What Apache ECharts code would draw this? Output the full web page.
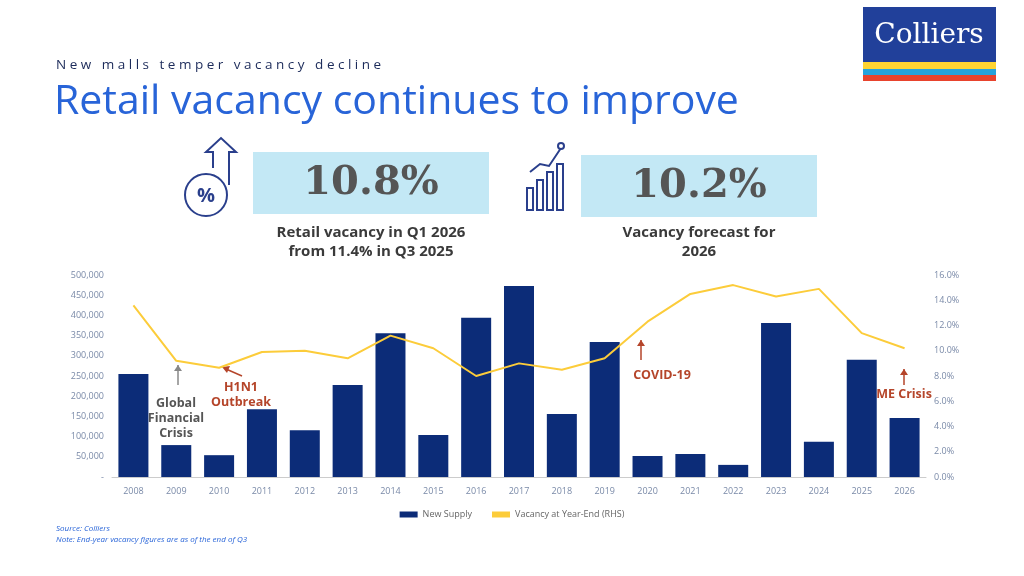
<!DOCTYPE html>
<html><head><meta charset="utf-8">
<script src="https://cdn.jsdelivr.net/npm/echarts@6/dist/echarts.min.js"></script>
<style>html,body{margin:0;background:#fff}#c{width:1024px;height:576px}</style>
</head><body><div id="c"></div>
<script>
var years=['2008','2009','2010','2011','2012','2013','2014','2015','2016','2017','2018','2019','2020','2021','2022','2023','2024','2025','2026'];
var newSupply=[255000,79000,54000,168000,116000,228000,356000,104000,394000,473000,156000,334000,52000,57000,30000,381000,87000,290000,146000];
var vacancy=[13.6,9.2,8.65,9.9,10.0,9.4,11.2,10.2,8.0,9.0,8.5,9.4,12.3,14.5,15.2,14.3,14.9,11.4,10.2];
var leftTicks=['-','50,000','100,000','150,000','200,000','250,000','300,000','350,000','400,000','450,000','500,000'];

var chart=echarts.init(document.getElementById('c'));
var F='"Open Sans", sans-serif';
var red='#b5452a';
function txt(x,y,t,c,font,align,va,lh){return {type:'text',x:x,y:y,style:{x:0,y:0,text:t,fill:c,font:font,align:align||'left',verticalAlign:va||'top',lineHeight:lh}};}
function note(x,y,t,c){return txt(x,y,t,c,'bold 12.5px '+F,'center','top',15);}
function arrow(x,y1,y2,c){return [
  {type:'line',shape:{x1:x,y1:y1,x2:x,y2:y2},style:{stroke:c,lineWidth:1.5}},
  {type:'polygon',shape:{points:[[x-4,y1+6],[x+4,y1+6],[x,y1]]},style:{fill:c}}];}
var g=[
  txt(56,58,'N e w   m a l l s   t e m p e r   v a c a n c y   d e c l i n e','#1c2b5a','13.5px '+F),
  txt(54,82,'Retail vacancy continues to improve','#2864d8','41px '+F),
  {type:'rect',shape:{x:253,y:152,width:236,height:62},style:{fill:'#c3e8f5'}},
  txt(371,184,'10.8%','#555','bold 40px "DejaVu Serif", serif','center','middle'),
  {type:'rect',shape:{x:581,y:155,width:236,height:62},style:{fill:'#c3e8f5'}},
  txt(699,187,'10.2%','#555','bold 40px "DejaVu Serif", serif','center','middle'),
  txt(371,223,'Retail vacancy in Q1 2026\nfrom 11.4% in Q3 2025','#3a3a3a','bold 15px '+F,'center','top',19),
  txt(699,223,'Vacancy forecast for\n2026','#3a3a3a','bold 15px '+F,'center','top',19),
  // percent icon
  {type:'circle',shape:{cx:206,cy:195,r:21},style:{fill:'none',stroke:'#2a3f8c',lineWidth:2}},
  txt(206,196,'%','#2a3f8c','bold 20px '+F,'center','middle'),
  {type:'polyline',shape:{points:[[213,168],[213,152],[206,152],[221,138],[236,152],[229,152],[229,185]]},style:{fill:'none',stroke:'#2a3f8c',lineWidth:2}},
  // bars icon
  {type:'rect',shape:{x:527,y:188,width:6,height:22},style:{fill:'none',stroke:'#2a3f8c',lineWidth:2}},
  {type:'rect',shape:{x:537,y:180,width:6,height:30},style:{fill:'none',stroke:'#2a3f8c',lineWidth:2}},
  {type:'rect',shape:{x:547,y:172,width:6,height:38},style:{fill:'none',stroke:'#2a3f8c',lineWidth:2}},
  {type:'rect',shape:{x:557,y:164,width:6,height:46},style:{fill:'none',stroke:'#2a3f8c',lineWidth:2}},
  {type:'polyline',shape:{points:[[530,172],[540,164],[549,166],[561,148]]},style:{fill:'none',stroke:'#2a3f8c',lineWidth:2}},
  {type:'circle',shape:{cx:561,cy:146,r:3},style:{fill:'#fff',stroke:'#2a3f8c',lineWidth:2}},
  // logo
  {type:'rect',shape:{x:863,y:7,width:133,height:55},style:{fill:'#21409a'}},
  {type:'rect',shape:{x:863,y:62,width:133,height:7},style:{fill:'#ffd432'}},
  {type:'rect',shape:{x:863,y:69,width:133,height:6},style:{fill:'#25a3dc'}},
  {type:'rect',shape:{x:863,y:75,width:133,height:6},style:{fill:'#e8432d'}},
  txt(929,36,'Colliers','#fff','28px "DejaVu Serif", serif','center','middle'),
  // annotations
  note(176,396,'Global\nFinancial\nCrisis','#555'),
  note(241,380,'H1N1\nOutbreak',red),
  note(662,368,'COVID-19',red),
  note(904,387,'ME Crisis',red),
  {type:'line',shape:{x1:242,y1:376,x2:226,y2:369},style:{stroke:red,lineWidth:1.5}},
  {type:'polygon',shape:{points:[[222,367],[230,366],[227,373]]},style:{fill:red}},
  txt(56,523,'Source: Colliers\nNote: End-year vacancy figures are as of the end of Q3','#2864d8','italic 8px '+F,'left','top',11)
].concat(arrow(178,365,385,'#888'),arrow(641,340,360,red),arrow(904,369,385,red));

chart.setOption({
  animation:false,
  graphic:g,
  grid:{left:112,right:98,top:275,bottom:99},
  legend:{bottom:52,left:'center',itemGap:20,textStyle:{fontSize:9,color:'#666',fontFamily:F},
    data:[{name:'New Supply',icon:'rect',itemStyle:{color:'#0c2c78'}},{name:'Vacancy at Year-End (RHS)',icon:'rect'}],itemWidth:18,itemHeight:6},
  xAxis:{type:'category',data:years,axisTick:{show:false},axisLine:{lineStyle:{color:'#ccc'}},axisLabel:{color:'#7a8aa8',fontSize:9,fontFamily:F,margin:10}},
  yAxis:[
    {type:'value',min:0,max:500000,interval:50000,splitLine:{show:false},axisLabel:{color:'#7a8aa8',fontSize:9,fontFamily:F,formatter:function(v){return leftTicks[Math.round(v/50000)];}}},
    {type:'value',min:0,max:16,interval:2,splitLine:{show:false},axisLabel:{color:'#7a8aa8',fontSize:9,fontFamily:F,formatter:function(v){return v.toFixed(1)+'%';}}}
  ],
  series:[
    {name:'New Supply',type:'bar',data:newSupply,barWidth:30,itemStyle:{color:'#0c2c78'}},
    {name:'Vacancy at Year-End (RHS)',type:'line',yAxisIndex:1,data:vacancy,symbol:'none',lineStyle:{color:'#fccc3a',width:2},itemStyle:{color:'#fccc3a'}}
  ]
});
</script></body></html>
